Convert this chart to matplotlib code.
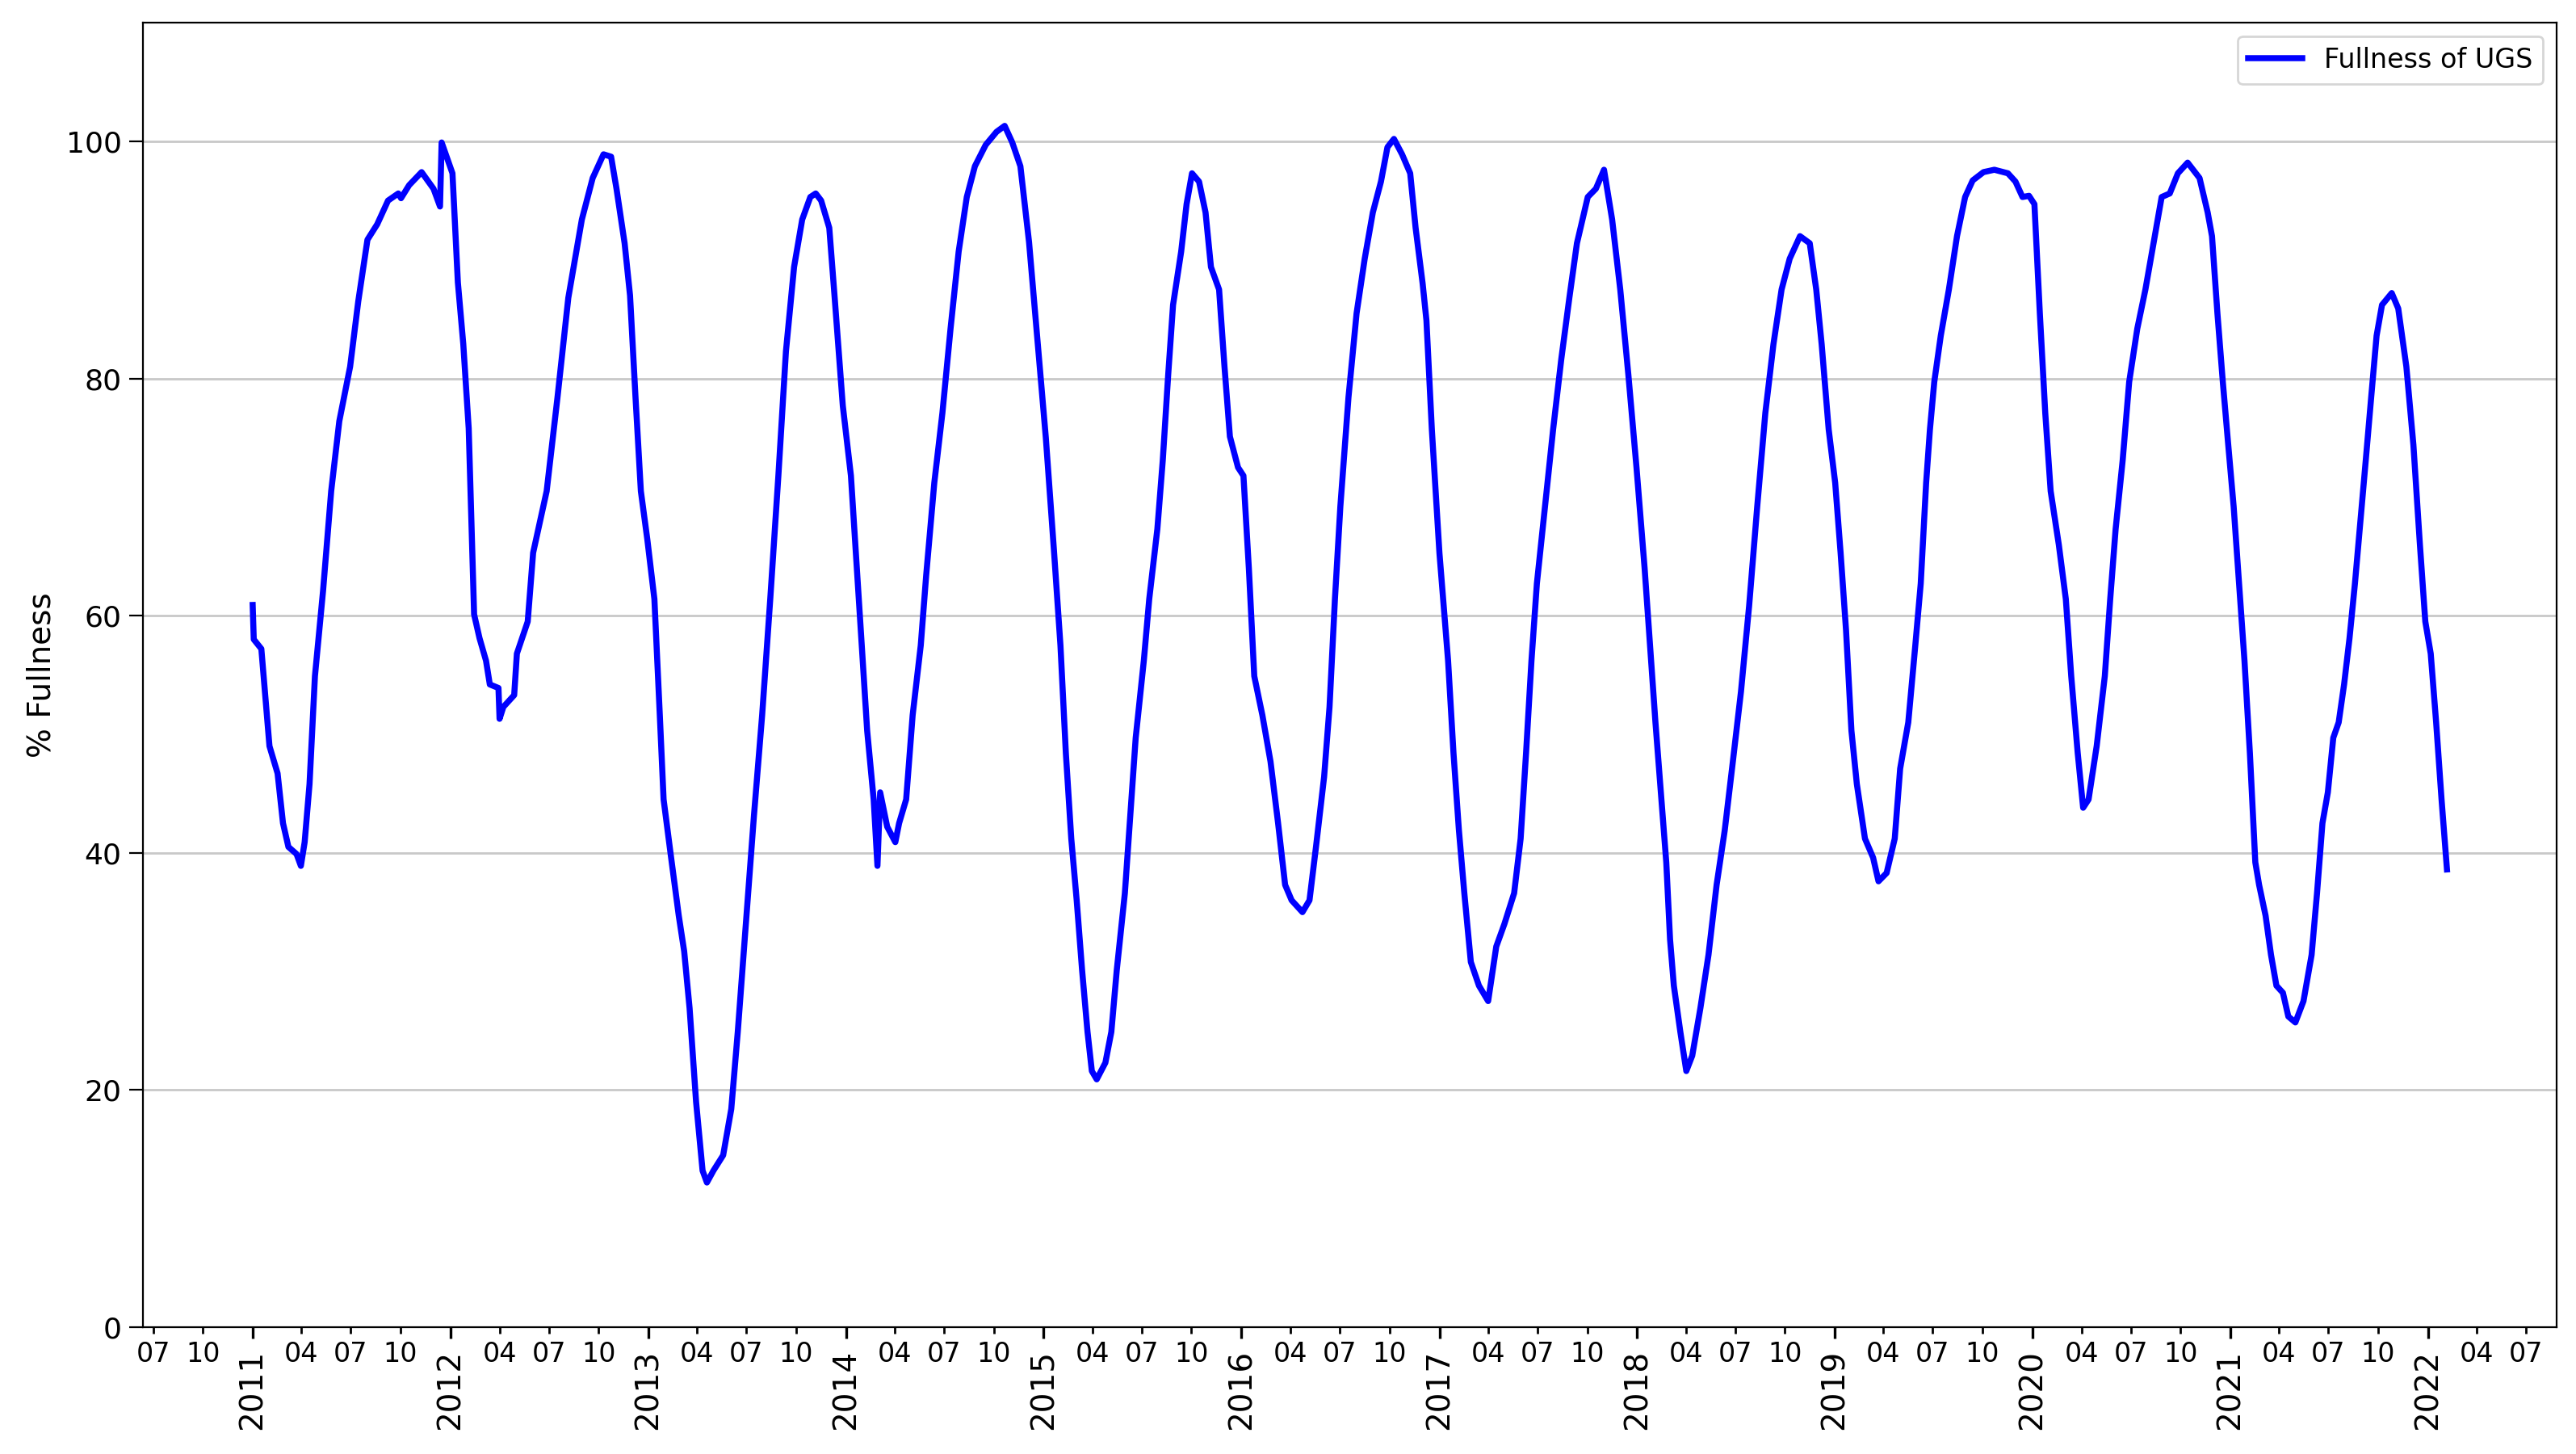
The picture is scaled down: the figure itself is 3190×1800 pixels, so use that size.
import pandas as pd
import matplotlib
matplotlib.use('Agg')
import matplotlib.pyplot as plt
import matplotlib.dates as mdates

# readings of UGS fullness, % (date, value), grouped roughly per storage season
dates = [
    '2011-01-01', '2011-01-03', '2011-01-17', '2011-02-01', '2011-02-16', '2011-02-26', '2011-03-08', '2011-03-23',
    '2011-03-31', '2011-04-07', '2011-04-16', '2011-04-26', '2011-05-11', '2011-05-26', '2011-06-10', '2011-06-30',
    '2011-07-15', '2011-08-01', '2011-08-19', '2011-09-08', '2011-09-27', '2011-10-02', '2011-10-17', '2011-11-09',
    '2011-12-01', '2011-12-13', '2011-12-16', '2011-12-26',
    '2012-01-05', '2012-01-15', '2012-01-25', '2012-02-04', '2012-02-09', '2012-02-14', '2012-02-24', '2012-03-07',
    '2012-03-14', '2012-03-30', '2012-04-01', '2012-04-08', '2012-04-28', '2012-05-03', '2012-05-23', '2012-06-02',
    '2012-06-27', '2012-07-17', '2012-08-06', '2012-08-31', '2012-09-20', '2012-10-10', '2012-10-24', '2012-11-03',
    '2012-11-18', '2012-11-28', '2012-12-08', '2012-12-18', '2012-12-30',
    '2013-01-12', '2013-01-22', '2013-01-29', '2013-02-11', '2013-02-26', '2013-03-08', '2013-03-18', '2013-03-30',
    '2013-04-11', '2013-04-19', '2013-05-01', '2013-05-19', '2013-06-03', '2013-06-15', '2013-06-30', '2013-07-15',
    '2013-07-30', '2013-08-14', '2013-08-29', '2013-09-12', '2013-09-27', '2013-10-12', '2013-10-27', '2013-11-06',
    '2013-11-16', '2013-12-01', '2013-12-11', '2013-12-26',
    '2014-01-10', '2014-01-20', '2014-01-30', '2014-02-09', '2014-02-21', '2014-02-28', '2014-03-05', '2014-03-18',
    '2014-04-02', '2014-04-09', '2014-04-22', '2014-05-04', '2014-05-19', '2014-05-29', '2014-06-13', '2014-06-28',
    '2014-07-13', '2014-07-28', '2014-08-12', '2014-08-27', '2014-09-16', '2014-10-06', '2014-10-21', '2014-11-04',
    '2014-11-19', '2014-12-05', '2014-12-20',
    '2015-01-05', '2015-01-20', '2015-02-01', '2015-02-11', '2015-02-21', '2015-03-03', '2015-03-13', '2015-03-23',
    '2015-03-31', '2015-04-09', '2015-04-25', '2015-05-06', '2015-05-16', '2015-05-31', '2015-06-10', '2015-06-20',
    '2015-07-05', '2015-07-15', '2015-07-30', '2015-08-09', '2015-08-19', '2015-08-28', '2015-09-12', '2015-09-22',
    '2015-10-02', '2015-10-15', '2015-10-27', '2015-11-06', '2015-11-21', '2015-12-01', '2015-12-11', '2015-12-26',
    '2016-01-05', '2016-01-15', '2016-01-25', '2016-02-09', '2016-02-24', '2016-03-09', '2016-03-22', '2016-04-03',
    '2016-04-23', '2016-05-06', '2016-05-18', '2016-06-02', '2016-06-12', '2016-06-22', '2016-07-02', '2016-07-17',
    '2016-08-01', '2016-08-16', '2016-08-31', '2016-09-15', '2016-09-27', '2016-10-09', '2016-10-24', '2016-11-08',
    '2016-11-18', '2016-12-01', '2016-12-08', '2016-12-18',
    '2017-01-01', '2017-01-17', '2017-01-27', '2017-02-06', '2017-02-16', '2017-02-28', '2017-03-15', '2017-04-01',
    '2017-04-16', '2017-05-01', '2017-05-19', '2017-05-31', '2017-06-10', '2017-06-20', '2017-06-30', '2017-07-15',
    '2017-07-30', '2017-08-14', '2017-08-29', '2017-09-12', '2017-10-02', '2017-10-17', '2017-11-01', '2017-11-16',
    '2017-12-01', '2017-12-16', '2017-12-31',
    '2018-01-15', '2018-01-25', '2018-02-04', '2018-02-14', '2018-02-24', '2018-03-03', '2018-03-10', '2018-03-22',
    '2018-04-02', '2018-04-13', '2018-04-28', '2018-05-13', '2018-05-28', '2018-06-12', '2018-06-27', '2018-07-12',
    '2018-07-27', '2018-08-11', '2018-08-26', '2018-09-10', '2018-09-25', '2018-10-10', '2018-10-29', '2018-11-16',
    '2018-11-28', '2018-12-08', '2018-12-21',
    '2019-01-02', '2019-01-12', '2019-01-22', '2019-02-01', '2019-02-11', '2019-02-26', '2019-03-13', '2019-03-23',
    '2019-04-07', '2019-04-22', '2019-05-02', '2019-05-17', '2019-05-30', '2019-06-09', '2019-06-19', '2019-06-26',
    '2019-07-04', '2019-07-16', '2019-07-31', '2019-08-15', '2019-08-30', '2019-09-13', '2019-10-03', '2019-10-23',
    '2019-11-17', '2019-12-01', '2019-12-14', '2019-12-26',
    '2020-01-05', '2020-01-15', '2020-01-25', '2020-02-04', '2020-02-19', '2020-03-03', '2020-03-13', '2020-03-25',
    '2020-04-04', '2020-04-14', '2020-04-29', '2020-05-14', '2020-05-24', '2020-06-03', '2020-06-16', '2020-06-28',
    '2020-07-13', '2020-07-28', '2020-08-12', '2020-08-27', '2020-09-11', '2020-09-26', '2020-10-14', '2020-11-05',
    '2020-11-20', '2020-11-28', '2020-12-08', '2020-12-18', '2020-12-28',
    '2021-01-07', '2021-01-17', '2021-01-27', '2021-02-06', '2021-02-16', '2021-02-23', '2021-03-07', '2021-03-17',
    '2021-03-27', '2021-04-08', '2021-04-18', '2021-05-01', '2021-05-16', '2021-05-31', '2021-06-10', '2021-06-20',
    '2021-06-30', '2021-07-10', '2021-07-20', '2021-07-30', '2021-08-09', '2021-08-19', '2021-08-29', '2021-09-08',
    '2021-09-18', '2021-09-28', '2021-10-08', '2021-10-26', '2021-11-07', '2021-11-22', '2021-12-05', '2021-12-17',
    '2021-12-27',
    '2022-01-06', '2022-01-16', '2022-01-26', '2022-02-05',
]

fullness = [
    60.9, 58.0, 57.2, 49.0, 46.7, 42.5, 40.5, 39.9,
    38.9, 40.9, 45.8, 54.9, 62.1, 70.5, 76.4, 81.0,
    86.5, 91.7, 93.0, 95.0, 95.6, 95.2, 96.3, 97.4,
    96.0, 94.5, 99.9, 98.6,
    97.3, 88.1, 82.9, 75.8, 67.9, 60.1, 58.1, 56.2,
    54.2, 53.9, 51.3, 52.3, 53.3, 56.8, 59.5, 65.3,
    70.5, 78.4, 86.8, 93.4, 96.9, 98.9, 98.7, 96.0,
    91.4, 87.0, 78.5, 70.5, 66.4,
    61.4, 51.6, 44.5, 39.9, 34.7, 31.7, 26.9, 19.0,
    13.2, 12.2, 13.2, 14.5, 18.4, 24.9, 34.0, 43.2,
    51.6, 61.4, 71.8, 82.3, 89.4, 93.4, 95.3, 95.6,
    95.0, 92.7, 86.8, 77.7,
    71.8, 64.7, 57.5, 50.3, 44.5, 38.9, 45.1, 42.2,
    40.9, 42.5, 44.5, 51.6, 57.5, 63.4, 71.2, 77.1,
    84.2, 90.7, 95.3, 97.9, 99.7, 100.8, 101.3, 99.9,
    97.9, 91.5, 83.5,
    75.0, 65.5, 57.5, 48.4, 41.2, 36.0, 30.1, 24.9,
    21.6, 20.9, 22.3, 24.9, 30.1, 36.6, 43.2, 49.7,
    56.2, 61.4, 67.3, 73.1, 80.3, 86.2, 90.7, 94.7,
    97.3, 96.6, 94.0, 89.4, 87.5, 81.0, 75.1, 72.5,
    71.8, 64.0, 54.9, 51.6, 47.7, 42.5, 37.3, 36.0,
    35.0, 36.0, 40.5, 46.4, 52.3, 61.4, 69.2, 78.4,
    85.5, 90.1, 94.0, 96.6, 99.5, 100.2, 98.9, 97.3,
    92.7, 88.0, 84.9, 75.7,
    65.3, 56.2, 48.4, 41.9, 36.6, 30.8, 28.8, 27.5,
    32.1, 34.0, 36.6, 41.2, 48.4, 56.2, 62.7, 69.2,
    75.7, 81.6, 86.8, 91.4, 95.3, 96.0, 97.6, 93.4,
    87.5, 80.3, 72.5,
    64.0, 57.5, 51.0, 45.1, 39.2, 32.7, 28.8, 24.9,
    21.6, 22.9, 26.9, 31.4, 37.3, 41.9, 47.7, 53.6,
    60.8, 69.2, 77.1, 82.9, 87.5, 90.1, 92.0, 91.4,
    87.5, 82.9, 75.7,
    71.2, 65.3, 58.8, 50.3, 45.8, 41.2, 39.6, 37.6,
    38.3, 41.2, 47.1, 51.0, 57.5, 62.7, 71.2, 75.7,
    79.7, 83.6, 87.5, 92.0, 95.3, 96.7, 97.4, 97.6,
    97.3, 96.6, 95.3, 95.4,
    94.7, 85.5, 77.1, 70.5, 66.0, 61.4, 54.9, 48.4,
    43.8, 44.5, 49.0, 54.9, 61.4, 67.3, 73.1, 79.7,
    84.2, 87.5, 91.4, 95.3, 95.6, 97.3, 98.2, 96.9,
    94.0, 92.0, 85.5, 79.7, 74.4,
    69.2, 62.7, 56.2, 48.4, 39.2, 37.3, 34.7, 31.4,
    28.8, 28.2, 26.2, 25.7, 27.5, 31.4, 36.6, 42.5,
    45.1, 49.7, 51.0, 54.2, 58.1, 62.7, 67.9, 73.1,
    78.4, 83.6, 86.2, 87.2, 85.9, 81.0, 74.4, 66.0,
    59.5,
    56.8, 51.0, 44.5, 38.6,
]

assert len(dates) == len(fullness)
x = pd.to_datetime(dates)

fig = plt.figure(figsize=(15.95, 9), dpi=200)
ax = fig.add_axes([0.0555, 0.0872, 0.937, 0.8972])

ax.plot(x, fullness, color='blue', lw=2.7, label='Fullness of UGS')

ax.set_ylim(0, 110)
ax.set_ylabel('% Fullness', fontsize=14)
ax.yaxis.grid(True, color='#c8c8c8', lw=1)
ax.set_axisbelow(True)

ax.xaxis.set_major_locator(mdates.YearLocator())
ax.xaxis.set_major_formatter(mdates.DateFormatter('%Y'))
ax.xaxis.set_minor_locator(mdates.MonthLocator(bymonth=[4, 7, 10]))
ax.xaxis.set_minor_formatter(mdates.DateFormatter('%m'))
plt.setp(ax.xaxis.get_majorticklabels(), rotation=90)
ax.tick_params(axis='x', which='major', length=5, width=1.2, pad=5, labelsize=14)
ax.tick_params(axis='x', which='minor', length=3, width=1, pad=3, labelsize=12)
ax.tick_params(axis='y', length=6, labelsize=13)

ax.legend(loc='upper right', fontsize=12)

fig.savefig('out.png', dpi=200)
